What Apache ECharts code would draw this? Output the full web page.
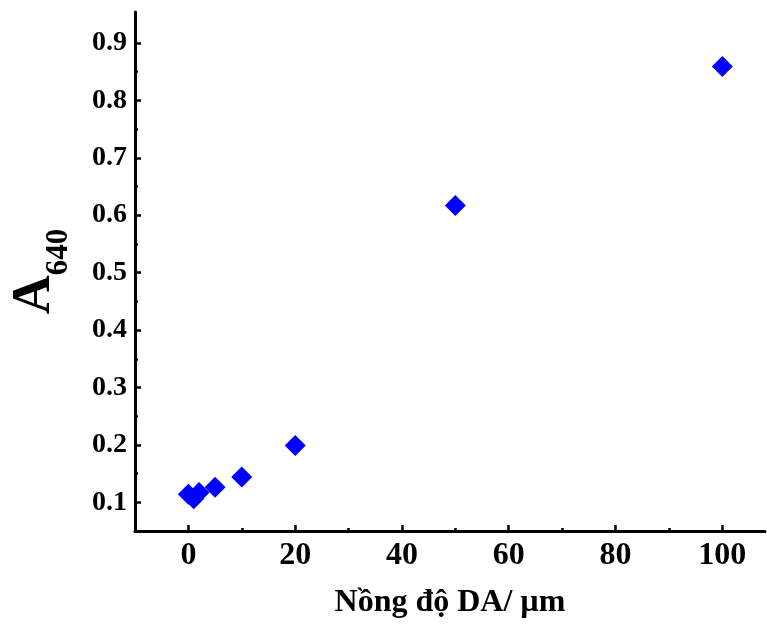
<!DOCTYPE html>
<html>
<head>
<meta charset="utf-8">
<title>A640 vs Nồng độ DA</title>
<script src="https://cdn.jsdelivr.net/npm/echarts@6/dist/echarts.min.js"></script>
<style>
  html, body { margin: 0; padding: 0; background: #ffffff; }
  #chart { width: 767px; height: 624px; }
</style>
</head>
<body>
<div id="chart"></div>
<script>
// Dopamine concentration (µM) and the measured absorbance at 640 nm
const concentration = [0, 1, 2, 5, 10, 20, 50, 100];
const absorbance = [0.114, 0.106, 0.117, 0.126, 0.144, 0.199, 0.617, 0.859];

// Labelled ticks and the unlabelled minor ticks between them
const xTicks = [0, 20, 40, 60, 80, 100];
const xMinorTicks = [10, 30, 50, 70, 90];
const yTicks = [0.1, 0.2, 0.3, 0.4, 0.5, 0.6, 0.7, 0.8, 0.9];
const yMinorTicks = [0.15, 0.25, 0.35, 0.45, 0.55, 0.65, 0.75, 0.85];

const FONT = '"Liberation Serif", "Times New Roman", serif';
const X_MIN = -10, X_MAX = 108;
const Y_MIN = 0.05, Y_MAX = 0.954;

const chart = echarts.init(document.getElementById('chart'));

// Second axes on the same grid carry only the short minor ticks
const minorAxisBase = {
  axisLine: { show: false, onZero: false },
  axisLabel: { show: false },
  splitLine: { show: false }
};

chart.setOption({
  backgroundColor: '#ffffff',
  animation: false,
  grid: { left: 134, right: 2, top: 12, bottom: 93 },
  xAxis: [
    {
      type: 'value',
      position: 'bottom',
      min: X_MIN,
      max: X_MAX,
      name: 'Nồng độ DA/ µm',
      nameLocation: 'middle',
      nameGap: 56,
      nameTextStyle: {
        fontFamily: FONT, fontWeight: 'bold', fontSize: 32, color: '#000',
        verticalAlign: 'top'
      },
      axisLine: { show: true, onZero: false, lineStyle: { color: '#000', width: 3 } },
      axisTick: {
        show: true, inside: true, length: 6,
        customValues: xTicks,
        lineStyle: { color: '#000', width: 2.5 }
      },
      axisLabel: {
        customValues: xTicks,
        margin: 9,
        fontFamily: FONT, fontWeight: 'bold', fontSize: 32, color: '#000'
      },
      splitLine: { show: false }
    },
    Object.assign({
      type: 'value',
      position: 'bottom',
      min: X_MIN,
      max: X_MAX,
      axisTick: {
        show: true, inside: true, length: 3,
        customValues: xMinorTicks,
        lineStyle: { color: '#000', width: 2.5 }
      }
    }, minorAxisBase)
  ],
  yAxis: [
    {
      type: 'value',
      position: 'left',
      min: Y_MIN,
      max: Y_MAX,
      name: '{a|A}{s|640}',
      nameLocation: 'middle',
      nameRotate: 90,
      nameGap: 73,
      nameTextStyle: {
        fontFamily: FONT, fontWeight: 'bold', color: '#000',
        rich: {
          a: { fontFamily: FONT, fontWeight: 'bold', fontSize: 54, color: '#000', verticalAlign: 'bottom', lineHeight: 54 },
          s: { fontFamily: FONT, fontWeight: 'bold', fontSize: 31, color: '#000', verticalAlign: 'bottom', lineHeight: 31, padding: [0, 0, -12, 0] }
        }
      },
      axisLine: { show: true, onZero: false, lineStyle: { color: '#000', width: 3 } },
      axisTick: {
        show: true, inside: true, length: 6,
        customValues: yTicks,
        lineStyle: { color: '#000', width: 2.5 }
      },
      axisLabel: {
        customValues: yTicks,
        margin: 8,
        fontFamily: FONT, fontWeight: 'bold', fontSize: 28, color: '#000',
        formatter: v => v.toFixed(1)
      },
      splitLine: { show: false }
    },
    Object.assign({
      type: 'value',
      position: 'left',
      min: Y_MIN,
      max: Y_MAX,
      axisTick: {
        show: true, inside: true, length: 3,
        customValues: yMinorTicks,
        lineStyle: { color: '#000', width: 2.5 }
      }
    }, minorAxisBase)
  ],
  series: [
    {
      type: 'scatter',
      xAxisIndex: 0,
      yAxisIndex: 0,
      symbol: 'diamond',
      symbolSize: 21,
      itemStyle: { color: '#0000ff', opacity: 1 },
      data: concentration.map((c, i) => [c, absorbance[i]])
    }
  ]
});
</script>
</body>
</html>
